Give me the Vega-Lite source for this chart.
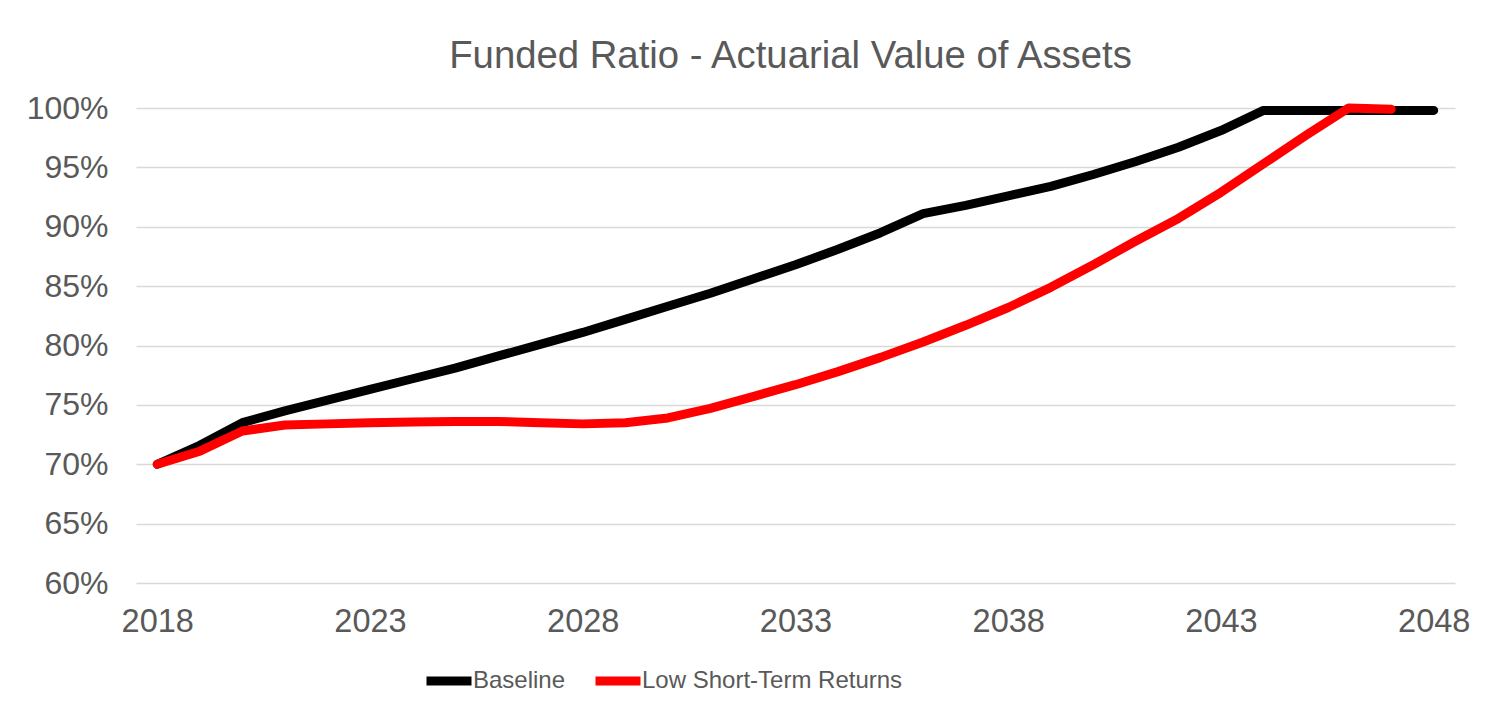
{
  "$schema": "https://vega.github.io/schema/vega-lite/v6.json",
  "width": 1319,
  "height": 475,
  "autosize": "none",
  "padding": {"left": 136, "top": 108, "right": 41, "bottom": 134},
  "background": "white",
  "title": {
    "text": "Funded Ratio - Actuarial Value of Assets",
    "font": "Liberation Sans",
    "fontSize": 38.3,
    "fontWeight": "normal",
    "color": "#595959",
    "anchor": "middle",
    "frame": "group",
    "offset": 16,
    "dx": -5
  },
  "data": {
    "values": [
      {"year": 2018, "series": "Baseline", "v": 70.0},
      {"year": 2019, "series": "Baseline", "v": 71.6},
      {"year": 2020, "series": "Baseline", "v": 73.5},
      {"year": 2021, "series": "Baseline", "v": 74.5},
      {"year": 2022, "series": "Baseline", "v": 75.4},
      {"year": 2023, "series": "Baseline", "v": 76.3},
      {"year": 2024, "series": "Baseline", "v": 77.2},
      {"year": 2025, "series": "Baseline", "v": 78.1},
      {"year": 2026, "series": "Baseline", "v": 79.1},
      {"year": 2027, "series": "Baseline", "v": 80.1},
      {"year": 2028, "series": "Baseline", "v": 81.1},
      {"year": 2029, "series": "Baseline", "v": 82.2},
      {"year": 2030, "series": "Baseline", "v": 83.3},
      {"year": 2031, "series": "Baseline", "v": 84.4},
      {"year": 2032, "series": "Baseline", "v": 85.6},
      {"year": 2033, "series": "Baseline", "v": 86.8},
      {"year": 2034, "series": "Baseline", "v": 88.1},
      {"year": 2035, "series": "Baseline", "v": 89.5},
      {"year": 2036, "series": "Baseline", "v": 91.1},
      {"year": 2037, "series": "Baseline", "v": 91.8},
      {"year": 2038, "series": "Baseline", "v": 92.6},
      {"year": 2039, "series": "Baseline", "v": 93.4},
      {"year": 2040, "series": "Baseline", "v": 94.4},
      {"year": 2041, "series": "Baseline", "v": 95.5},
      {"year": 2042, "series": "Baseline", "v": 96.7},
      {"year": 2043, "series": "Baseline", "v": 98.1},
      {"year": 2044, "series": "Baseline", "v": 99.8},
      {"year": 2045, "series": "Baseline", "v": 99.8},
      {"year": 2046, "series": "Baseline", "v": 99.8},
      {"year": 2047, "series": "Baseline", "v": 99.8},
      {"year": 2048, "series": "Baseline", "v": 99.8},
      {"year": 2018, "series": "Low Short-Term Returns", "v": 70.0},
      {"year": 2019, "series": "Low Short-Term Returns", "v": 71.1},
      {"year": 2020, "series": "Low Short-Term Returns", "v": 72.8},
      {"year": 2021, "series": "Low Short-Term Returns", "v": 73.3},
      {"year": 2022, "series": "Low Short-Term Returns", "v": 73.4},
      {"year": 2023, "series": "Low Short-Term Returns", "v": 73.5},
      {"year": 2024, "series": "Low Short-Term Returns", "v": 73.55},
      {"year": 2025, "series": "Low Short-Term Returns", "v": 73.6},
      {"year": 2026, "series": "Low Short-Term Returns", "v": 73.6},
      {"year": 2027, "series": "Low Short-Term Returns", "v": 73.5},
      {"year": 2028, "series": "Low Short-Term Returns", "v": 73.4},
      {"year": 2029, "series": "Low Short-Term Returns", "v": 73.5},
      {"year": 2030, "series": "Low Short-Term Returns", "v": 73.9},
      {"year": 2031, "series": "Low Short-Term Returns", "v": 74.7},
      {"year": 2032, "series": "Low Short-Term Returns", "v": 75.7},
      {"year": 2033, "series": "Low Short-Term Returns", "v": 76.7},
      {"year": 2034, "series": "Low Short-Term Returns", "v": 77.8},
      {"year": 2035, "series": "Low Short-Term Returns", "v": 79.0},
      {"year": 2036, "series": "Low Short-Term Returns", "v": 80.3},
      {"year": 2037, "series": "Low Short-Term Returns", "v": 81.7},
      {"year": 2038, "series": "Low Short-Term Returns", "v": 83.2},
      {"year": 2039, "series": "Low Short-Term Returns", "v": 84.9},
      {"year": 2040, "series": "Low Short-Term Returns", "v": 86.8},
      {"year": 2041, "series": "Low Short-Term Returns", "v": 88.8},
      {"year": 2042, "series": "Low Short-Term Returns", "v": 90.7},
      {"year": 2043, "series": "Low Short-Term Returns", "v": 92.9},
      {"year": 2044, "series": "Low Short-Term Returns", "v": 95.3},
      {"year": 2045, "series": "Low Short-Term Returns", "v": 97.7},
      {"year": 2046, "series": "Low Short-Term Returns", "v": 100.0},
      {"year": 2047, "series": "Low Short-Term Returns", "v": 99.9}
    ]
  },
  "mark": {"type": "line", "strokeWidth": 9, "strokeCap": "round", "strokeJoin": "round", "clip": false},
  "encoding": {
    "x": {
      "field": "year",
      "type": "quantitative",
      "scale": {"domain": [2017.5, 2048.5], "nice": false, "zero": false},
      "axis": {
        "title": null,
        "values": [2018, 2023, 2028, 2033, 2038, 2043, 2048],
        "format": "d",
        "grid": false,
        "ticks": false,
        "domain": false,
        "labelFont": "Liberation Sans",
        "labelFontSize": 32.5,
        "labelColor": "#595959",
        "labelPadding": 22,
        "labelFlush": false
      }
    },
    "y": {
      "field": "v",
      "type": "quantitative",
      "scale": {"domain": [60, 100], "nice": false, "zero": false},
      "axis": {
        "title": null,
        "values": [60, 65, 70, 75, 80, 85, 90, 95, 100],
        "labelExpr": "datum.value + '%'",
        "grid": true,
        "gridColor": "#d9d9d9",
        "gridWidth": 1.5,
        "ticks": false,
        "domain": false,
        "labelFont": "Liberation Sans",
        "labelFontSize": 32,
        "labelColor": "#595959",
        "labelPadding": 28
      }
    },
    "color": {
      "field": "series",
      "type": "nominal",
      "scale": {"domain": ["Baseline", "Low Short-Term Returns"], "range": ["#000000", "#ff0000"]},
      "legend": {
        "title": null,
        "orient": "none",
        "direction": "horizontal",
        "legendX": 286,
        "legendY": 546,
        "symbolType": "stroke",
        "symbolSize": 2025,
        "symbolStrokeWidth": 9,
        "labelFont": "Liberation Sans",
        "labelFontSize": 24,
        "labelColor": "#595959",
        "labelOffset": -3,
        "labelLimit": 0,
        "columnPadding": 11,
        "padding": 0
      }
    }
  },
  "config": {"view": {"stroke": null}}
}
